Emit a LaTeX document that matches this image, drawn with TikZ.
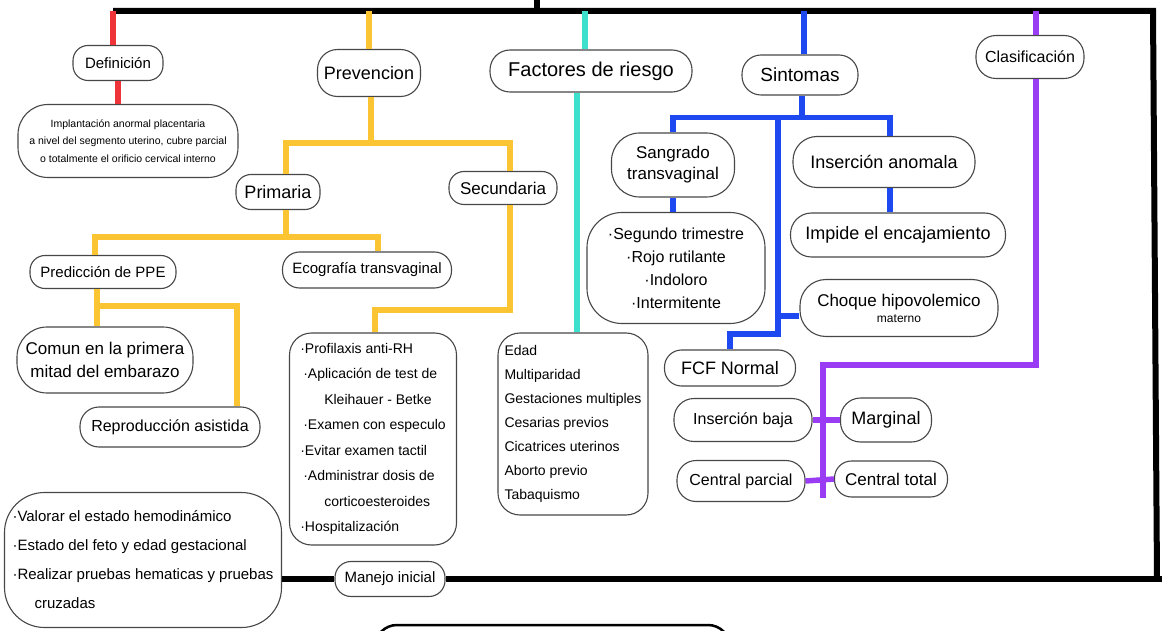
\documentclass[tikz,border=0pt]{standalone}
\usepackage{fontspec}
\setmainfont{Liberation Sans}
\newcommand\fsz[2]{\fontsize{#1}{#2}\selectfont}
\definecolor{crd}{RGB}{238,52,56}
\definecolor{cyl}{RGB}{250,196,50}
\definecolor{ccy}{RGB}{60,224,204}
\definecolor{cbl}{RGB}{30,72,240}
\definecolor{cpu}{RGB}{155,60,245}
\begin{document}
\begin{tikzpicture}[x=1pt,y=-1pt,
  box/.style={draw=black!72, line width=1.1pt, fill=white, align=center, inner sep=0pt, rounded corners=15pt},
  lst/.style={box, align=left},
  conn/.style={line width=5.5pt},
  rd/.style={conn, draw=crd},
  ylw/.style={conn, draw=cyl},
  cyn/.style={conn, draw=ccy},
  blu/.style={conn, draw=cbl},
  pur/.style={conn, draw=cpu},
  blk/.style={line width=6pt, draw=black}]
\fill[white] (0,0) rectangle (1162,631);
\useasboundingbox (0,0) rectangle (1162,631);

% nodes
\node[box, minimum width=90pt, minimum height=35pt, font=\fsz{15}{17}] (defn) at (118,63) {Definición};
\node[box, minimum width=220pt, minimum height=73pt, rounded corners=30pt, font=\fsz{10.5}{17.5}] (deft) at (128,141) {Implantación anormal placentaria\\a nivel del segmento uterino, cubre parcial\\o totalmente el orificio cervical interno};
\node[box, minimum width=103pt, minimum height=47pt, rounded corners=20pt, font=\fsz{18}{20}] (prev) at (369,73) {Prevencion};
\node[box, minimum width=84pt, minimum height=35pt, font=\fsz{18}{20}] (prim) at (278,192) {Primaria};
\node[box, minimum width=108pt, minimum height=33pt, font=\fsz{17}{19}] (sec) at (503,188) {Secundaria};
\node[box, minimum width=146pt, minimum height=33pt, font=\fsz{15}{17}] (pred) at (103,272) {Predicción de PPE};
\node[box, minimum width=169pt, minimum height=36pt, rounded corners=17pt, font=\fsz{15}{17}] (eco) at (367,270) {Ecografía transvaginal};
\node[box, minimum width=176pt, minimum height=66pt, rounded corners=30pt, font=\fsz{17}{23}] (comun) at (105,360) {Comun en la primera\\mitad del embarazo};
\node[box, minimum width=180pt, minimum height=40pt, rounded corners=19pt, font=\fsz{16}{18}] (repro) at (170,427) {Reproducción asistida};
\node[lst, minimum width=167pt, minimum height=212pt, rounded corners=22pt, font=\fsz{14}{25.5}] (prof) at (373,439) {·Profilaxis anti-RH\\\hspace{3pt}·Aplicación de test de\\\hspace{24pt}Kleihauer - Betke\\\hspace{3pt}·Examen con especulo\\·Evitar examen tactil\\\hspace{3pt}·Administrar dosis de\\\hspace{24pt}corticoesteroides\\·Hospitalización};
\node[box, minimum width=202pt, minimum height=42pt, rounded corners=20pt, font=\fsz{20}{22}] (fact) at (591,71) {Factores de riesgo};
\node[lst, minimum width=150pt, minimum height=182pt, rounded corners=22pt, font=\fsz{14}{24}] (flist) at (573,424) {Edad\\Multiparidad\\Gestaciones multiples\\Cesarias previos\\Cicatrices uterinos\\Aborto previo\\Tabaquismo};
\node[box, minimum width=116pt, minimum height=40pt, rounded corners=19pt, font=\fsz{19}{21}] (sint) at (800,75) {Sintomas};
\node[box, minimum width=123pt, minimum height=64pt, rounded corners=28pt, font=\fsz{17}{21}] (sang) at (673,165) {Sangrado\\transvaginal};
\node[box, minimum width=178pt, minimum height=111pt, rounded corners=35pt, font=\fsz{16}{23}] (seg) at (676,268) {·Segundo trimestre\\·Rojo rutilante\\·Indoloro\\·Intermitente};
\node[box, minimum width=182pt, minimum height=51pt, rounded corners=24pt, font=\fsz{18}{20}] (ins) at (884,162) {Inserción anomala};
\node[box, minimum width=215pt, minimum height=44pt, rounded corners=21pt, font=\fsz{18}{20}] (imp) at (898,235) {Impide el encajamiento};
\node[box, minimum width=198pt, minimum height=57pt, rounded corners=26pt, font=\fsz{17}{16}] (choq) at (899,308) {Choque hipovolemico\\{\fsz{12}{14}materno}};
\node[box, minimum width=131pt, minimum height=36pt, rounded corners=17pt, font=\fsz{18}{20}] (fcf) at (730,368) {FCF Normal};
\node[box, minimum width=108pt, minimum height=43pt, rounded corners=20pt, font=\fsz{16}{18}] (clas) at (1030,57) {Clasificación};
\node[box, minimum width=138pt, minimum height=43pt, rounded corners=20pt, font=\fsz{16}{18}] (ib) at (743,420) {Inserción baja};
\node[box, minimum width=91pt, minimum height=44pt, rounded corners=20pt, font=\fsz{18}{20}] (marg) at (886,420) {Marginal};
\node[box, minimum width=128pt, minimum height=41pt, rounded corners=19pt, font=\fsz{16}{18}] (cp) at (741,481) {Central parcial};
\node[box, minimum width=113pt, minimum height=36pt, rounded corners=17pt, font=\fsz{17}{19}] (ct) at (891,479) {Central total};
\node[lst, minimum width=277pt, minimum height=135pt, rounded corners=40pt, font=\fsz{15}{29}] (mlist) at (143,560) {·Valorar el estado hemodinámico\\·Estado del feto y edad gestacional\\·Realizar pruebas hematicas y pruebas\\\hspace{22pt}cruzadas};
\node[box, minimum width=110pt, minimum height=35pt, rounded corners=16pt, font=\fsz{15}{17}] (man) at (390,579) {Manejo inicial};

% frame coordinates
\coordinate (tl) at (113,11);
\coordinate (tr) at (1153,11);
\coordinate (br) at (1157,579);
\coordinate (bend) at (1162,579);
\coordinate (tk1) at (537,0);
\coordinate (tk2) at (537,11);
\draw[blk] (tl) -- (tr) -- (br);
\draw[blk] (tk1) -- (tk2);
\draw[blk] (man.east) -- (bend);
\draw[blk] (mlist.east |- man.west) -- (man.west);

% red
\draw[rd] ([xshift=-5pt]defn.north |- tl) -- ([xshift=-5pt]defn.north);
\draw[rd] (defn.south) -- (defn.south |- deft.north);

% yellow
\draw[ylw] (prev.north |- tl) -- (prev.north);
\draw[ylw] ([xshift=2pt]prev.south) -- ++(0,46) coordinate (py1);
\draw[ylw] ([xshift=8pt]prim.north) |- (py1) -| ([xshift=7pt]sec.north);
\draw[ylw] ([xshift=8pt]prim.south) -- ++(0,27) coordinate (py2);
\draw[ylw] ([xshift=-8pt]pred.north) |- (py2) -| ([xshift=11pt]eco.north);
\draw[ylw] ([xshift=-6pt]pred.south) -- ++(0,17) coordinate (py3) -| ([xshift=67pt]repro.north);
\draw[ylw] (py3) -- (comun.north -| py3);
\draw[ylw] ([xshift=7pt]sec.south) -- ++(0,105) -| ([xshift=2pt]prof.north);

% cyan
\draw[cyn] ([xshift=-6pt]fact.north) -- ([xshift=-6pt]fact.north |- tl);
\draw[cyn] ([xshift=-14pt]fact.south) -- ([xshift=4pt]flist.north);

% blue
\draw[blu] ([xshift=4pt]sint.north) -- ([xshift=4pt]sint.north |- tl);
\draw[blu] ([xshift=2pt]sint.south) -- ++(0,22) coordinate (sy);
\draw[blu] (sang.north) |- (sy) -| ([xshift=6pt]ins.north);
\coordinate (sv) at (778,117);
\coordinate (sb) at (778,334);
\draw[blu] (sv) -- (sb) -| (fcf.north);
\draw[blu] ([yshift=-8pt]choq.west) -- ([yshift=-8pt]choq.west -| sv);
\draw[blu] (sang.south) -- (sang.south |- seg.north);
\draw[blu] ([xshift=6pt]ins.south) -- ([xshift=6pt]ins.south |- imp.north);

% purple
\draw[pur] ([xshift=6pt]clas.north) -- ([xshift=6pt]clas.north |- tl);
\coordinate (pa) at (823,365);
\coordinate (pb) at (823,498);
\draw[pur] ([xshift=6pt]clas.south) |- (pa) -- (pb);
\draw[pur] (ib.east) -- (marg.west);
\draw[pur] (cp.east) -- (ct.west);

% partial box at the bottom edge
\begin{scope}
\clip (0,0) rectangle (1162,631);
\draw[line width=2.5pt, rounded corners=22pt] (375,700) rectangle (730,625);
\end{scope}
\end{tikzpicture}
\end{document}
